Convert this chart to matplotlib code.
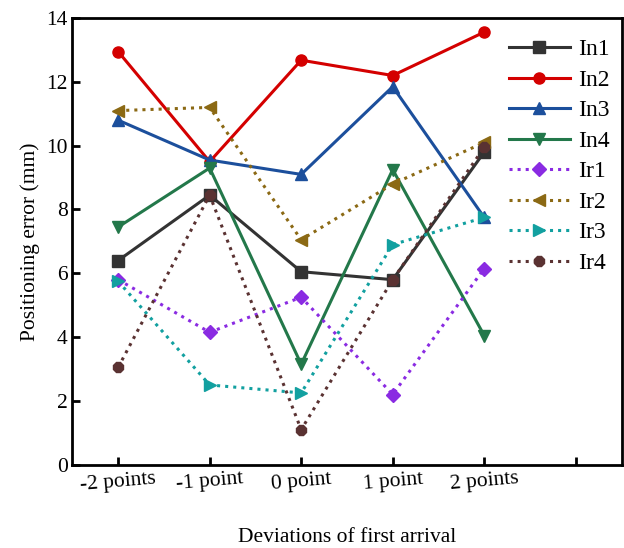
import matplotlib
matplotlib.use("Agg")
import matplotlib.pyplot as plt

plt.rcParams["font.family"] = ["Liberation Serif", "DejaVu Serif"]

categories = ["-2 points", "-1 point", "0 point", "1 point", "2 points", ""]
x = [1, 2, 3, 4, 5]

in1 = [6.40, 8.45, 6.05, 5.80, 9.80]
in2 = [12.95, 9.50, 12.68, 12.20, 13.56]
in3 = [10.80, 9.55, 9.10, 11.85, 7.75]
in4 = [7.45, 9.30, 3.15, 9.25, 4.05]
ir1 = [5.80, 4.15, 5.25, 2.20, 6.15]
ir2 = [11.10, 11.20, 7.05, 8.80, 10.10]
ir3 = [5.75, 2.50, 2.25, 6.90, 7.75]
ir4 = [3.05, 8.45, 1.10, 5.80, 9.95]

STYLE = [
    ("In1", in1, "#333333", "s", "-"),
    ("In2", in2, "#d40000", "o", "-"),
    ("In3", in3, "#1c4f9c", "^", "-"),
    ("In4", in4, "#23784a", "v", "-"),
    ("Ir1", ir1, "#8a2be2", "D", ":"),
    ("Ir2", ir2, "#8b6914", "<", ":"),
    ("Ir3", ir3, "#12a0a0", ">", ":"),
    ("Ir4", ir4, "#5a3232", "8", ":"),
]

fig = plt.figure(figsize=(6.24, 5.48), dpi=100)
ax = fig.add_axes([0.116, 0.152, 0.88, 0.815])

for lab, ys, c, m, ls in STYLE:
    ms = 7.5 if m == "D" else 8
    ax.plot(x, ys, ls=ls, marker=m, color=c, lw=2.2, ms=ms, label=lab)

ax.set_xlim(0.5, 6.5)
ax.set_ylim(0, 14)
ax.set_xticks(range(1, 7))
ax.set_xticklabels(categories, rotation=5, fontsize=15.5)
ax.set_yticks(range(0, 15, 2))
ax.tick_params(axis="y", labelsize=15.5)
ax.tick_params(direction="in", width=2, length=6)
for sp in ax.spines.values():
    sp.set_linewidth(2)

ax.set_xlabel("Deviations of first arrival", fontsize=15.5, labelpad=24)
ax.set_ylabel("Positioning error (mm)", fontsize=15.5, labelpad=4)

ax.legend(loc="upper right", bbox_to_anchor=(1.005, 0.985), frameon=False,
          fontsize=17, handlelength=2.6, labelspacing=0.38,
          handletextpad=0.35, borderaxespad=0.2)

fig.savefig("out.png", dpi=100)
